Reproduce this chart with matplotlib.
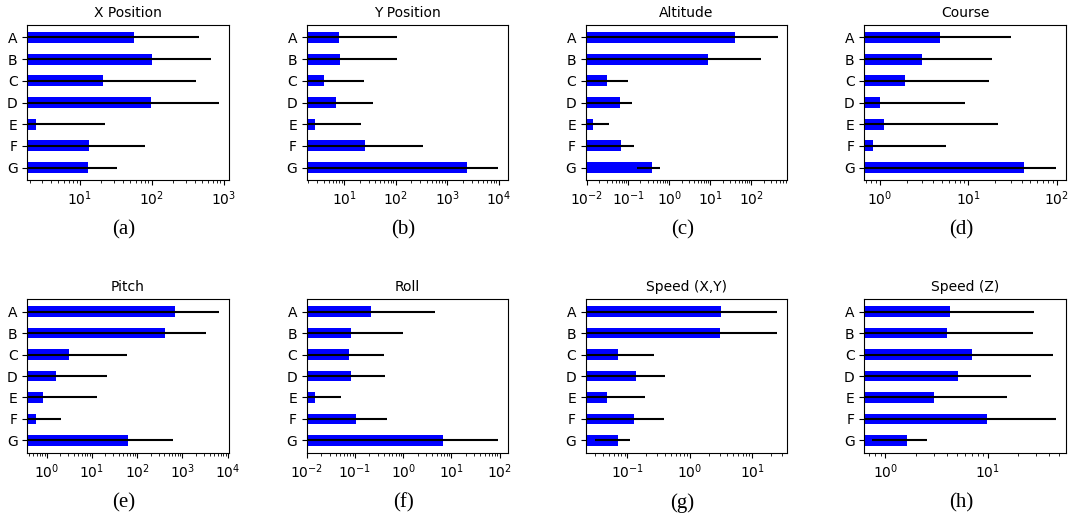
import numpy as np
import matplotlib
matplotlib.use("Agg")
import matplotlib.pyplot as plt
from matplotlib.ticker import LogLocator

labels = ["A", "B", "C", "D", "E", "F", "G"]

titles = ["X Position", "Y Position", "Altitude", "Course",
          "Pitch", "Roll", "Speed (X,Y)", "Speed (Z)"]
captions = ["(a)", "(b)", "(c)", "(d)", "(e)", "(f)", "(g)", "(h)"]

# mean and std per variable
x_pos_mean = [56, 100, 21.3, 99, 2.42, 13.2, 12.9]
x_pos_std = [398, 567, 387, 762, 20, 67.5, 20]
y_pos_mean = [8.0, 8.4, 4.15, 6.9, 2.69, 25.6, 2427]
y_pos_std = [98, 97.6, 20.7, 29.7, 18.4, 312, 7100]
alt_mean = [40, 8.77, 0.0302, 0.0627, 0.01425, 0.0662, 0.377]
alt_std = [399, 163, 0.072, 0.06, 0.020, 0.071, 0.21]
course_mean = [4.73, 3.01, 1.92, 1.01, 1.10, 0.826, 42.7]
course_std = [25.4, 15.5, 15.4, 8.16, 20.6, 4.7, 55.5]
pitch_mean = [678, 415, 3.11, 1.58, 0.816, 0.572, 64.4]
pitch_std = [5650, 2970, 56, 20.6, 12.3, 1.50, 548]
roll_mean = [0.217, 0.0832, 0.0769, 0.0832, 0.01466, 0.107, 6.56]
roll_std = [4.32, 0.885, 0.327, 0.34, 0.036, 0.351, 87]
spd_xy_mean = [3.14, 3.03, 0.0708, 0.136, 0.0466, 0.1265, 0.0708]
spd_xy_std = [21.4, 22.1, 0.194, 0.261, 0.143, 0.261, 0.040]
spd_z_mean = [4.29, 4.04, 7.03, 5.13, 2.97, 9.93, 1.64]
spd_z_std = [24.3, 23.5, 36.8, 21.2, 12.6, 36.6, 0.89]

means = [x_pos_mean, y_pos_mean, alt_mean, course_mean,
         pitch_mean, roll_mean, spd_xy_mean, spd_z_mean]
stds = [x_pos_std, y_pos_std, alt_std, course_std,
        pitch_std, roll_std, spd_xy_std, spd_z_std]

# x limits (log10) as they appear in the figure
xlims_log = [(0.269, 3.069), (0.274, 4.182), (-2.033, 2.870), (-0.177, 2.10),
             (-0.426, 4.022), (-2.0, 2.173), (-1.668, 1.556), (-0.205, 1.762)]

W, H = 1070, 518
fig = plt.figure(figsize=(W / 100, H / 100), dpi=100)

lefts = [27.3, 306.7, 585.7, 864.3]
ax_w = 201.3
rows = [(25, 155), (299.3, 153.4)]  # (top, height) in pixels

for i in range(8):
    r, c = divmod(i, 4)
    top, h = rows[r]
    ax = fig.add_axes([lefts[c] / W, (H - top - h) / H, ax_w / W, h / H])
    ax.barh(labels, means[i], xerr=stds[i], height=0.5, color="blue")
    ax.set_xscale("log")
    ax.set_xlim(10 ** xlims_log[i][0], 10 ** xlims_log[i][1])
    ax.xaxis.set_major_locator(LogLocator(base=10, numticks=20))
    ax.xaxis.set_minor_locator(LogLocator(base=10, subs=np.arange(2, 10), numticks=20))
    ax.invert_yaxis()
    ax.set_title(titles[i], fontsize=10)
    fig.text((lefts[c] + ax_w / 2 - 4) / W, (H - top - h - 50) / H, captions[i],
             ha="center", va="center", fontsize=15, family="Liberation Serif")

fig.savefig("out.png", dpi=100)
